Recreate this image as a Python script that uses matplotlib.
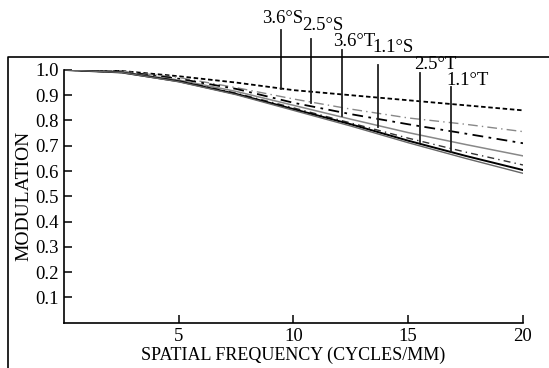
import matplotlib
matplotlib.use("Agg")
import matplotlib.pyplot as plt
from matplotlib.lines import Line2D

plt.rcParams['font.family'] = ['Liberation Serif', 'DejaVu Serif']

# spatial frequency samples (cycles/mm)
freq = [0, 2.5, 5, 7.5, 10, 12.5, 15, 17.5, 20]

# MTF curves
mtf_top_dash = [1.0, 0.996, 0.975, 0.95, 0.92, 0.90, 0.88, 0.86, 0.84]
mtf_gray_dashdot = [1.0, 0.995, 0.97, 0.93, 0.885, 0.845, 0.81, 0.785, 0.756]
mtf_black_dashdot = [1.0, 0.994, 0.965, 0.925, 0.87, 0.825, 0.785, 0.748, 0.71]
mtf_gray_mid = [1.0, 0.992, 0.96, 0.915, 0.86, 0.805, 0.752, 0.705, 0.66]
mtf_black_dash = [1.0, 0.99, 0.957, 0.908, 0.85, 0.79, 0.73, 0.675, 0.624]
mtf_black_solid = [1.0, 0.99, 0.955, 0.905, 0.845, 0.785, 0.72, 0.66, 0.604]
mtf_gray_low = [1.0, 0.99, 0.953, 0.902, 0.84, 0.778, 0.712, 0.65, 0.591]

# field labels with leader lines
field_labels = ['3.6°S', '2.5°S', '3.6°T', '1.1°S', '2.5°T', '1.1°T']
leader_x = [9.46, 10.75, 12.13, 13.67, 15.52, 16.86]
leader_bottom = [0.925, 0.869, 0.818, 0.774, 0.716, 0.677]
leader_top = [1.158, 1.123, 1.079, 1.020, 0.988, 0.933]
label_x = [8.63, 10.37, 11.72, 13.46, 15.25, 16.65]
label_y = [1.202, 1.174, 1.113, 1.089, 1.020, 0.960]

fig = plt.figure(figsize=(5.49, 3.68), dpi=100)
ax = fig.add_axes([0.1166, 0.123, 0.8360, 0.687])

ax.plot(freq, mtf_top_dash, color='black', lw=1.3, ls=(0, (2.5, 1.5)))
ax.plot(freq, mtf_gray_dashdot, color='#888888', lw=1.0, ls=(0, (7, 3, 1, 3)))
ax.plot(freq, mtf_black_dashdot, color='black', lw=1.3, ls=(0, (6, 3, 1.5, 3)))
ax.plot(freq, mtf_gray_mid, color='#888888', lw=1.1)
ax.plot(freq, mtf_black_dash, color='#333333', lw=1.0, ls=(0, (5, 3, 1, 3)))
ax.plot(freq, mtf_black_solid, color='black', lw=1.4)
ax.plot(freq, mtf_gray_low, color='#666666', lw=1.0)

for x, yb, yt in zip(leader_x, leader_bottom, leader_top):
    ax.plot([x, x], [yb, yt], color='#222222', lw=1.3, clip_on=False)
for lab, x, y in zip(field_labels, label_x, label_y):
    ax.text(x, y, lab, ha='left', va='center', fontsize=13.5)

ax.set_xlim(0, 20)
ax.set_ylim(0, 1.0)
ax.set_xticks([5, 10, 15, 20])
ax.set_yticks([0.1, 0.2, 0.3, 0.4, 0.5, 0.6, 0.7, 0.8, 0.9, 1.0])
ax.set_yticklabels(['0.1', '0.2', '0.3', '0.4', '0.5', '0.6', '0.7', '0.8', '0.9', '1.0'])
ax.tick_params(direction='in', length=6, width=1.1, labelsize=13.5, pad=4)
for s in ['top', 'right']:
    ax.spines[s].set_visible(False)
for s in ['left', 'bottom']:
    ax.spines[s].set_linewidth(1.2)

ax.set_xlabel('SPATIAL FREQUENCY (CYCLES/MM)', fontsize=13, labelpad=1)
ax.set_ylabel('MODULATION', fontsize=14, labelpad=2)

# outer frame open at right and bottom
fig.add_artist(Line2D([8 / 549, 8 / 549, 1.0], [0.0, 1 - 57 / 368, 1 - 57 / 368],
                      transform=fig.transFigure, color='black', lw=1.2))

fig.savefig('out.png', dpi=100)
